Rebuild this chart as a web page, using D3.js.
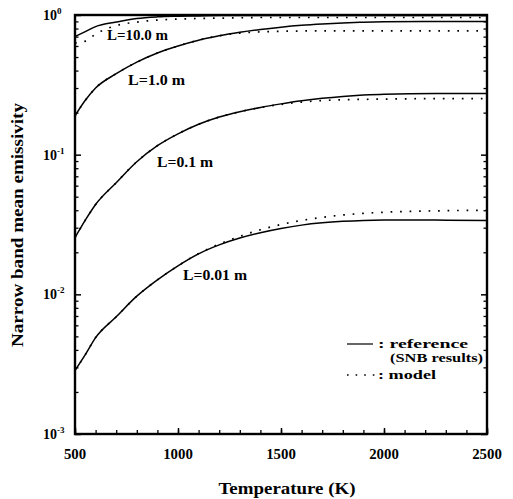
<!DOCTYPE html>
<html>
<head>
<meta charset="utf-8">
<script src="https://cdn.jsdelivr.net/npm/d3@7"></script>
<style>
  html, body { margin: 0; padding: 0; background: #fff; }
  svg { display: block; }
  text { font-family: "Liberation Serif", "DejaVu Serif", serif; font-weight: bold; fill: #000; }
</style>
</head>
<body>
<div id="chart"></div>
<script>
// temperature grid (K)
const temps = [500, 550, 600, 700, 800, 900, 1000, 1100, 1200, 1300, 1400, 1500, 1600, 1700, 1800, 1900, 2000, 2250, 2500]

// reference (SNB) and model emissivities
const ref001 = [0.00285, 0.0037, 0.0049, 0.0069, 0.0097, 0.0127, 0.0160, 0.0195, 0.0226, 0.0253, 0.0276, 0.0296, 0.0313, 0.0325, 0.0333, 0.0338, 0.0340, 0.0340, 0.0338]
const mod001 = [0.00285, 0.0037, 0.0049, 0.0069, 0.0097, 0.0127, 0.0160, 0.0196, 0.0229, 0.0260, 0.0290, 0.0316, 0.0338, 0.0356, 0.0370, 0.0380, 0.0387, 0.0396, 0.0400]
const ref01 = [0.0255, 0.034, 0.044, 0.063, 0.089, 0.116, 0.141, 0.165, 0.186, 0.203, 0.218, 0.231, 0.243, 0.253, 0.261, 0.267, 0.271, 0.274, 0.274]
const mod01 = [0.0255, 0.034, 0.044, 0.063, 0.089, 0.116, 0.141, 0.165, 0.186, 0.203, 0.217, 0.229, 0.238, 0.244, 0.247, 0.249, 0.250, 0.252, 0.252]
const ref1 = [0.19, 0.245, 0.30, 0.38, 0.46, 0.535, 0.60, 0.66, 0.71, 0.752, 0.788, 0.818, 0.843, 0.862, 0.877, 0.887, 0.894, 0.90, 0.90]
const mod1 = [0.19, 0.245, 0.30, 0.38, 0.46, 0.535, 0.60, 0.66, 0.71, 0.742, 0.757, 0.764, 0.768, 0.77, 0.77, 0.77, 0.77, 0.77, 0.77]
const ref10 = [0.70, 0.76, 0.825, 0.89, 0.945, 0.97, 0.98, 0.985, 0.99, 0.99, 0.99, 0.99, 0.99, 0.99, 0.99, 0.99, 0.99, 0.99, 0.99]
const mod10 = [0.63, 0.65, 0.73, 0.84, 0.89, 0.92, 0.935, 0.945, 0.95, 0.955, 0.96, 0.96, 0.96, 0.96, 0.96, 0.96, 0.96, 0.96, 0.96]

const curveLabels = ['L=0.01 m', 'L=0.1 m', 'L=1.0 m', 'L=10.0 m']
const xTickLabels = [500, 1000, 1500, 2000, 2500]
const yDecades = [0, -1, -2, -3]
const legendLabels = [': reference', '(SNB results)', ': model']

const width = 513
const height = 499
const margin = ({ top: 15, right: 26, bottom: 65, left: 75 })

const x = d3.scaleLinear().domain([500, 2500]).range([margin.left, width - margin.right])
const y = d3.scaleLog().domain([1e-3, 1]).range([height - margin.bottom, margin.top])

const svg = d3.select('#chart').append('svg')
	.attr('width', width)
	.attr('height', height)

svg.append('clipPath').attr('id', 'plot-clip')
	.append('rect')
	.attr('x', x(500)).attr('y', y(1))
	.attr('width', x(2500) - x(500)).attr('height', y(1e-3) - y(1))

const line = d3.line()
	.x(d => x(d[0]))
	.y(d => y(d[1]))
	.curve(d3.curveMonotoneX)

const series = [
	{ ref: ref001, mod: mod001 },
	{ ref: ref01, mod: mod01 },
	{ ref: ref1, mod: mod1 },
	{ ref: ref10, mod: mod10 }
]

const plot = svg.append('g').attr('clip-path', 'url(#plot-clip)')

for (let s of series) {
	plot.append('path')
		.datum(temps.map((t, i) => [t, s.mod[i]]))
		.attr('d', line)
		.attr('fill', 'none')
		.attr('stroke', '#000')
		.attr('stroke-width', 1.7)
		.attr('stroke-dasharray', '1.7,7.8')
	plot.append('path')
		.datum(temps.map((t, i) => [t, s.ref[i]]))
		.attr('d', line)
		.attr('fill', 'none')
		.attr('stroke', '#000')
		.attr('stroke-width', 1.5)
}

// axes: ticks pointing inward
const xMinor = d3.range(500, 2501, 100)
svg.append('g')
	.attr('transform', `translate(0,${y(1e-3)})`)
	.call(d3.axisTop(x).tickValues(xMinor).tickSize(4).tickFormat(''))
	.call(g => g.select('.domain').remove())
	.call(g => g.selectAll('line').attr('stroke-width', 1.3))
svg.append('g')
	.attr('transform', `translate(0,${y(1e-3)})`)
	.call(d3.axisTop(x).tickValues(xTickLabels).tickSize(6).tickFormat(''))
	.call(g => g.select('.domain').remove())
	.call(g => g.selectAll('line').attr('stroke-width', 1.5))

const yMinor = []
for (let k = -3; k < 0; k++) for (let m = 2; m <= 9; m++) yMinor.push(m * Math.pow(10, k))
const yMajor = yDecades.map(k => Math.pow(10, k))

for (let side of ['left', 'right']) {
	const pos = side === 'left' ? x(500) : x(2500)
	const axis = side === 'left' ? d3.axisRight : d3.axisLeft
	svg.append('g')
		.attr('transform', `translate(${pos},0)`)
		.call(axis(y).tickValues(yMinor).tickSize(3.5).tickFormat(''))
		.call(g => g.select('.domain').remove())
		.call(g => g.selectAll('line').attr('stroke-width', 1.3))
	svg.append('g')
		.attr('transform', `translate(${pos},0)`)
		.call(axis(y).tickValues(yMajor).tickSize(6).tickFormat(''))
		.call(g => g.select('.domain').remove())
		.call(g => g.selectAll('line').attr('stroke-width', 1.5))
}

// frame
svg.append('rect')
	.attr('x', x(500)).attr('y', y(1))
	.attr('width', x(2500) - x(500)).attr('height', y(1e-3) - y(1))
	.attr('fill', 'none')
	.attr('stroke', '#000')
	.attr('stroke-width', 2.4)

// x tick labels (scan is a little wide, so stretch the text to match)
svg.append('g').selectAll('text')
	.data(xTickLabels)
	.join('text')
	.attr('x', d => x(d))
	.attr('y', y(1e-3) + 25)
	.attr('text-anchor', 'middle')
	.attr('font-size', 14)
	.attr('textLength', d => String(d).length * 7.4)
	.attr('lengthAdjust', 'spacingAndGlyphs')
	.text(d => d)

// y tick labels as 10^k
const yLab = svg.append('g').selectAll('text')
	.data(yDecades)
	.join('text')
	.attr('x', x(500) - 32)
	.attr('y', d => y(Math.pow(10, d)) + 5)
	.attr('font-size', 14)
yLab.append('tspan').text('10')
yLab.append('tspan')
	.attr('dy', -6)
	.attr('font-size', 9)
	.text(d => d === 0 ? '0' : '-' + Math.abs(d))

// curve labels
const labelPos = [[183, 280], [157, 167], [128, 85], [107, 40]]
const labelLen = [64, 56, 57, 61]
svg.append('g').selectAll('text')
	.data(curveLabels)
	.join('text')
	.attr('x', (d, i) => labelPos[i][0])
	.attr('y', (d, i) => labelPos[i][1])
	.attr('font-size', 14)
	.attr('textLength', (d, i) => labelLen[i])
	.attr('lengthAdjust', 'spacingAndGlyphs')
	.text(d => d)

// axis titles
svg.append('text')
	.attr('x', (x(500) + x(2500)) / 2 + 6)
	.attr('y', 494)
	.attr('text-anchor', 'middle')
	.attr('font-size', 16)
	.attr('textLength', 137)
	.attr('lengthAdjust', 'spacingAndGlyphs')
	.text('Temperature (K)')

svg.append('text')
	.attr('transform', `translate(23,225) rotate(-90)`)
	.attr('text-anchor', 'middle')
	.attr('font-size', 16)
	.attr('textLength', 244)
	.attr('lengthAdjust', 'spacingAndGlyphs')
	.text('Narrow band mean emissivity')

// legend
const legend = svg.append('g')
legend.append('line')
	.attr('x1', 347).attr('x2', 373)
	.attr('y1', 344).attr('y2', 344)
	.attr('stroke', '#000').attr('stroke-width', 1.2)
legend.append('line')
	.attr('x1', 347).attr('x2', 375)
	.attr('y1', 375).attr('y2', 375)
	.attr('stroke', '#000').attr('stroke-width', 1.6)
	.attr('stroke-dasharray', '1.6,7')
const legendLen = [90, 93, 58]
legend.selectAll('text')
	.data(legendLabels)
	.join('text')
	.attr('x', (d, i) => i === 1 ? 390 : 378)
	.attr('y', (d, i) => [348, 362, 379][i])
	.attr('font-size', 13)
	.attr('textLength', (d, i) => legendLen[i])
	.attr('lengthAdjust', 'spacingAndGlyphs')
	.text(d => d)
</script>
</body>
</html>
